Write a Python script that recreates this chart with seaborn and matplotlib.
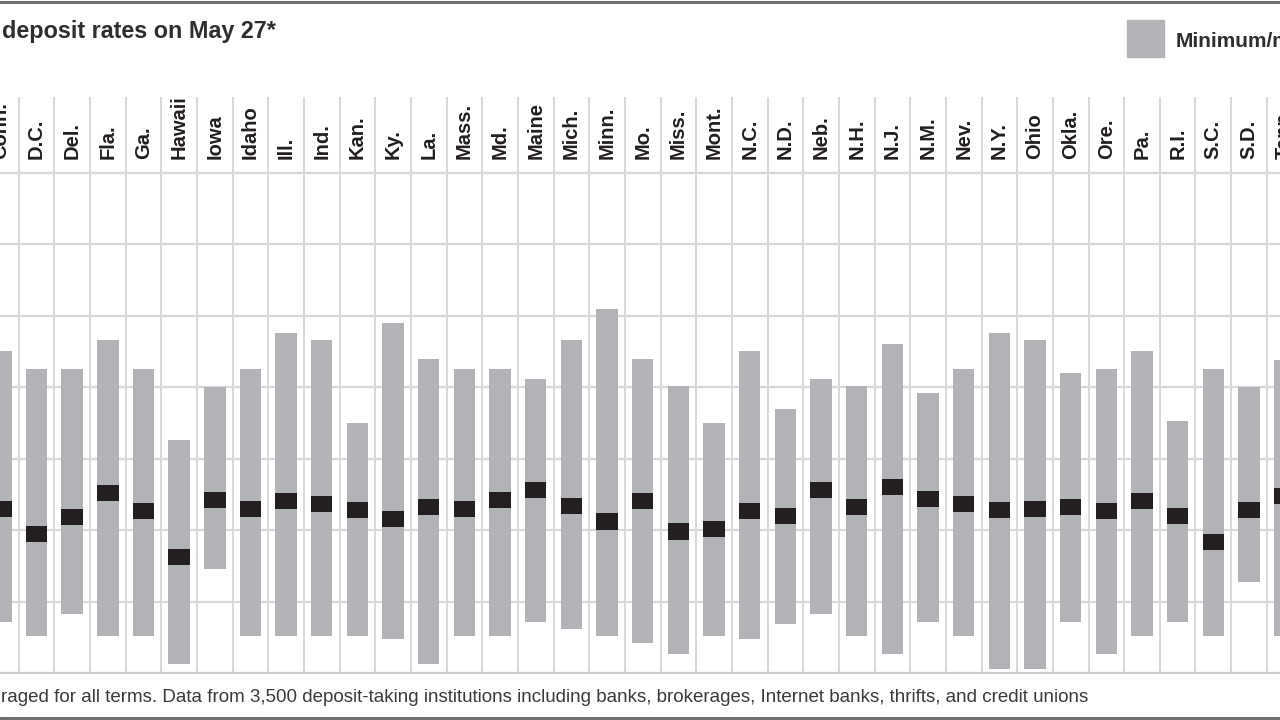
import matplotlib

matplotlib.use("Agg")
import matplotlib.pyplot as plt
import numpy as np
import pandas as pd
import seaborn as sns
from matplotlib.lines import Line2D
from matplotlib.patches import Rectangle

# %%
states = [
    "Conn.", "D.C.", "Del.", "Fla.", "Ga.", "Hawaii", "Iowa", "Idaho", "Ill.",
    "Ind.", "Kan.", "Ky.", "La.", "Mass.", "Md.", "Maine", "Mich.", "Minn.",
    "Mo.", "Miss.", "Mont.", "N.C.", "N.D.", "Neb.", "N.H.", "N.J.", "N.M.",
    "Nev.", "N.Y.", "Ohio", "Okla.", "Ore.", "Pa.", "R.I.", "S.C.", "S.D.",
    "Tenn.",
]
# deposit rates, percent
rate_min = [
    0.36, 0.26, 0.41, 0.26, 0.26, 0.06, 0.73, 0.26, 0.26,
    0.26, 0.26, 0.24, 0.06, 0.26, 0.26, 0.36, 0.31, 0.26,
    0.21, 0.13, 0.26, 0.24, 0.34, 0.41, 0.26, 0.13, 0.36,
    0.26, 0.03, 0.03, 0.36, 0.13, 0.26, 0.36, 0.26, 0.64,
    0.26,
]
rate_max = [
    2.25, 2.13, 2.13, 2.33, 2.13, 1.63, 2.00, 2.13, 2.38,
    2.33, 1.75, 2.45, 2.20, 2.13, 2.13, 2.06, 2.33, 2.55,
    2.20, 2.01, 1.75, 2.25, 1.85, 2.06, 2.01, 2.30, 1.96,
    2.13, 2.38, 2.33, 2.10, 2.13, 2.25, 1.76, 2.13, 2.00,
    2.19,
]
rate_avg = [
    1.15, 0.97, 1.09, 1.26, 1.13, 0.81, 1.21, 1.15, 1.20,
    1.18, 1.14, 1.08, 1.16, 1.15, 1.21, 1.28, 1.17, 1.06,
    1.20, 0.99, 1.01, 1.13, 1.10, 1.28, 1.16, 1.30, 1.22,
    1.18, 1.14, 1.15, 1.16, 1.13, 1.20, 1.10, 0.92, 1.14,
    1.24,
]

MARK_H = 0.112  # thickness of the average marker, in percent units

df = pd.DataFrame(dict(state=states, low=rate_min, high=rate_max, avg=rate_avg))
df["span"] = df["high"] - df["low"]
df["mark"] = MARK_H

BAR_GRAY = "#b2b3b6"
INK = "#231f20"
GRID = "#d8d8d8"

# %%
sns.set_theme(style="white")
plt.rcParams["font.family"] = ["Liberation Sans", "DejaVu Sans"]

fig = plt.figure(figsize=(12.8, 7.2), dpi=100)
ax = fig.add_axes([0, 47 / 720, 1, 576 / 720])

sns.barplot(
    data=df,
    x="state",
    y="span",
    bottom=df["low"].values,
    color=BAR_GRAY,
    saturation=1,
    width=0.6,
    errorbar=None,
    linewidth=0,
    zorder=2,
    ax=ax,
)
sns.barplot(
    data=df,
    x="state",
    y="mark",
    bottom=(df["avg"] - MARK_H / 2).values,
    color=INK,
    saturation=1,
    width=0.6,
    errorbar=None,
    linewidth=0,
    zorder=3,
    ax=ax,
)

ymax = 4.03
ax.set_xlim(-0.0236, 35.87)
ax.set_ylim(0, ymax)
ax.set_yticks(np.arange(0.5, 3.6, 0.5))
ax.yaxis.grid(True, color=GRID, lw=1.6)
ax.set_axisbelow(True)
ax.vlines(np.arange(len(states)) + 0.5, 0, ymax, color=GRID, lw=1.4, zorder=1)
ax.tick_params(length=0, labelleft=False, labelbottom=False)
ax.set_xlabel("")
ax.set_ylabel("")
for side in ["top", "left", "right"]:
    ax.spines[side].set_visible(False)
ax.spines["bottom"].set_color("#cccccc")
ax.spines["bottom"].set_linewidth(1.6)

# state names in the header row
for i, s in enumerate(states):
    ax.text(
        i, 3.596, s, rotation=90, ha="center", va="bottom",
        fontsize=14.5, fontweight="bold", color=INK, clip_on=False,
    )

# title, legend, footnote
fig.text(0.0015, 1 - 38 / 720, "deposit rates on May 27*", fontsize=16.8,
         fontweight="bold", color="#2e2e2e", va="baseline")
fig.patches.append(
    Rectangle((1127 / 1280, 1 - 57 / 720), 37 / 1280, 37 / 720,
              transform=fig.transFigure, color=BAR_GRAY)
)
fig.text(1176 / 1280, 1 - 47 / 720, "Minimum/maximum", fontsize=15,
         fontweight="bold", color="#2e2e2e", va="baseline")
fig.text(0.0005, 1 - 702 / 720,
         "raged for all terms. Data from 3,500 deposit-taking institutions "
         "including banks, brokerages, Internet banks, thrifts, and credit unions",
         fontsize=13.5, color="#3a3a3a", va="baseline")

fig.add_artist(Line2D([0, 1], [1 - 1.5 / 720] * 2, color="#707070", lw=2.2))
fig.add_artist(Line2D([0, 1], [1 - 717.5 / 720] * 2, color="#707070", lw=2.2))

fig.savefig("out.png", dpi=100)
